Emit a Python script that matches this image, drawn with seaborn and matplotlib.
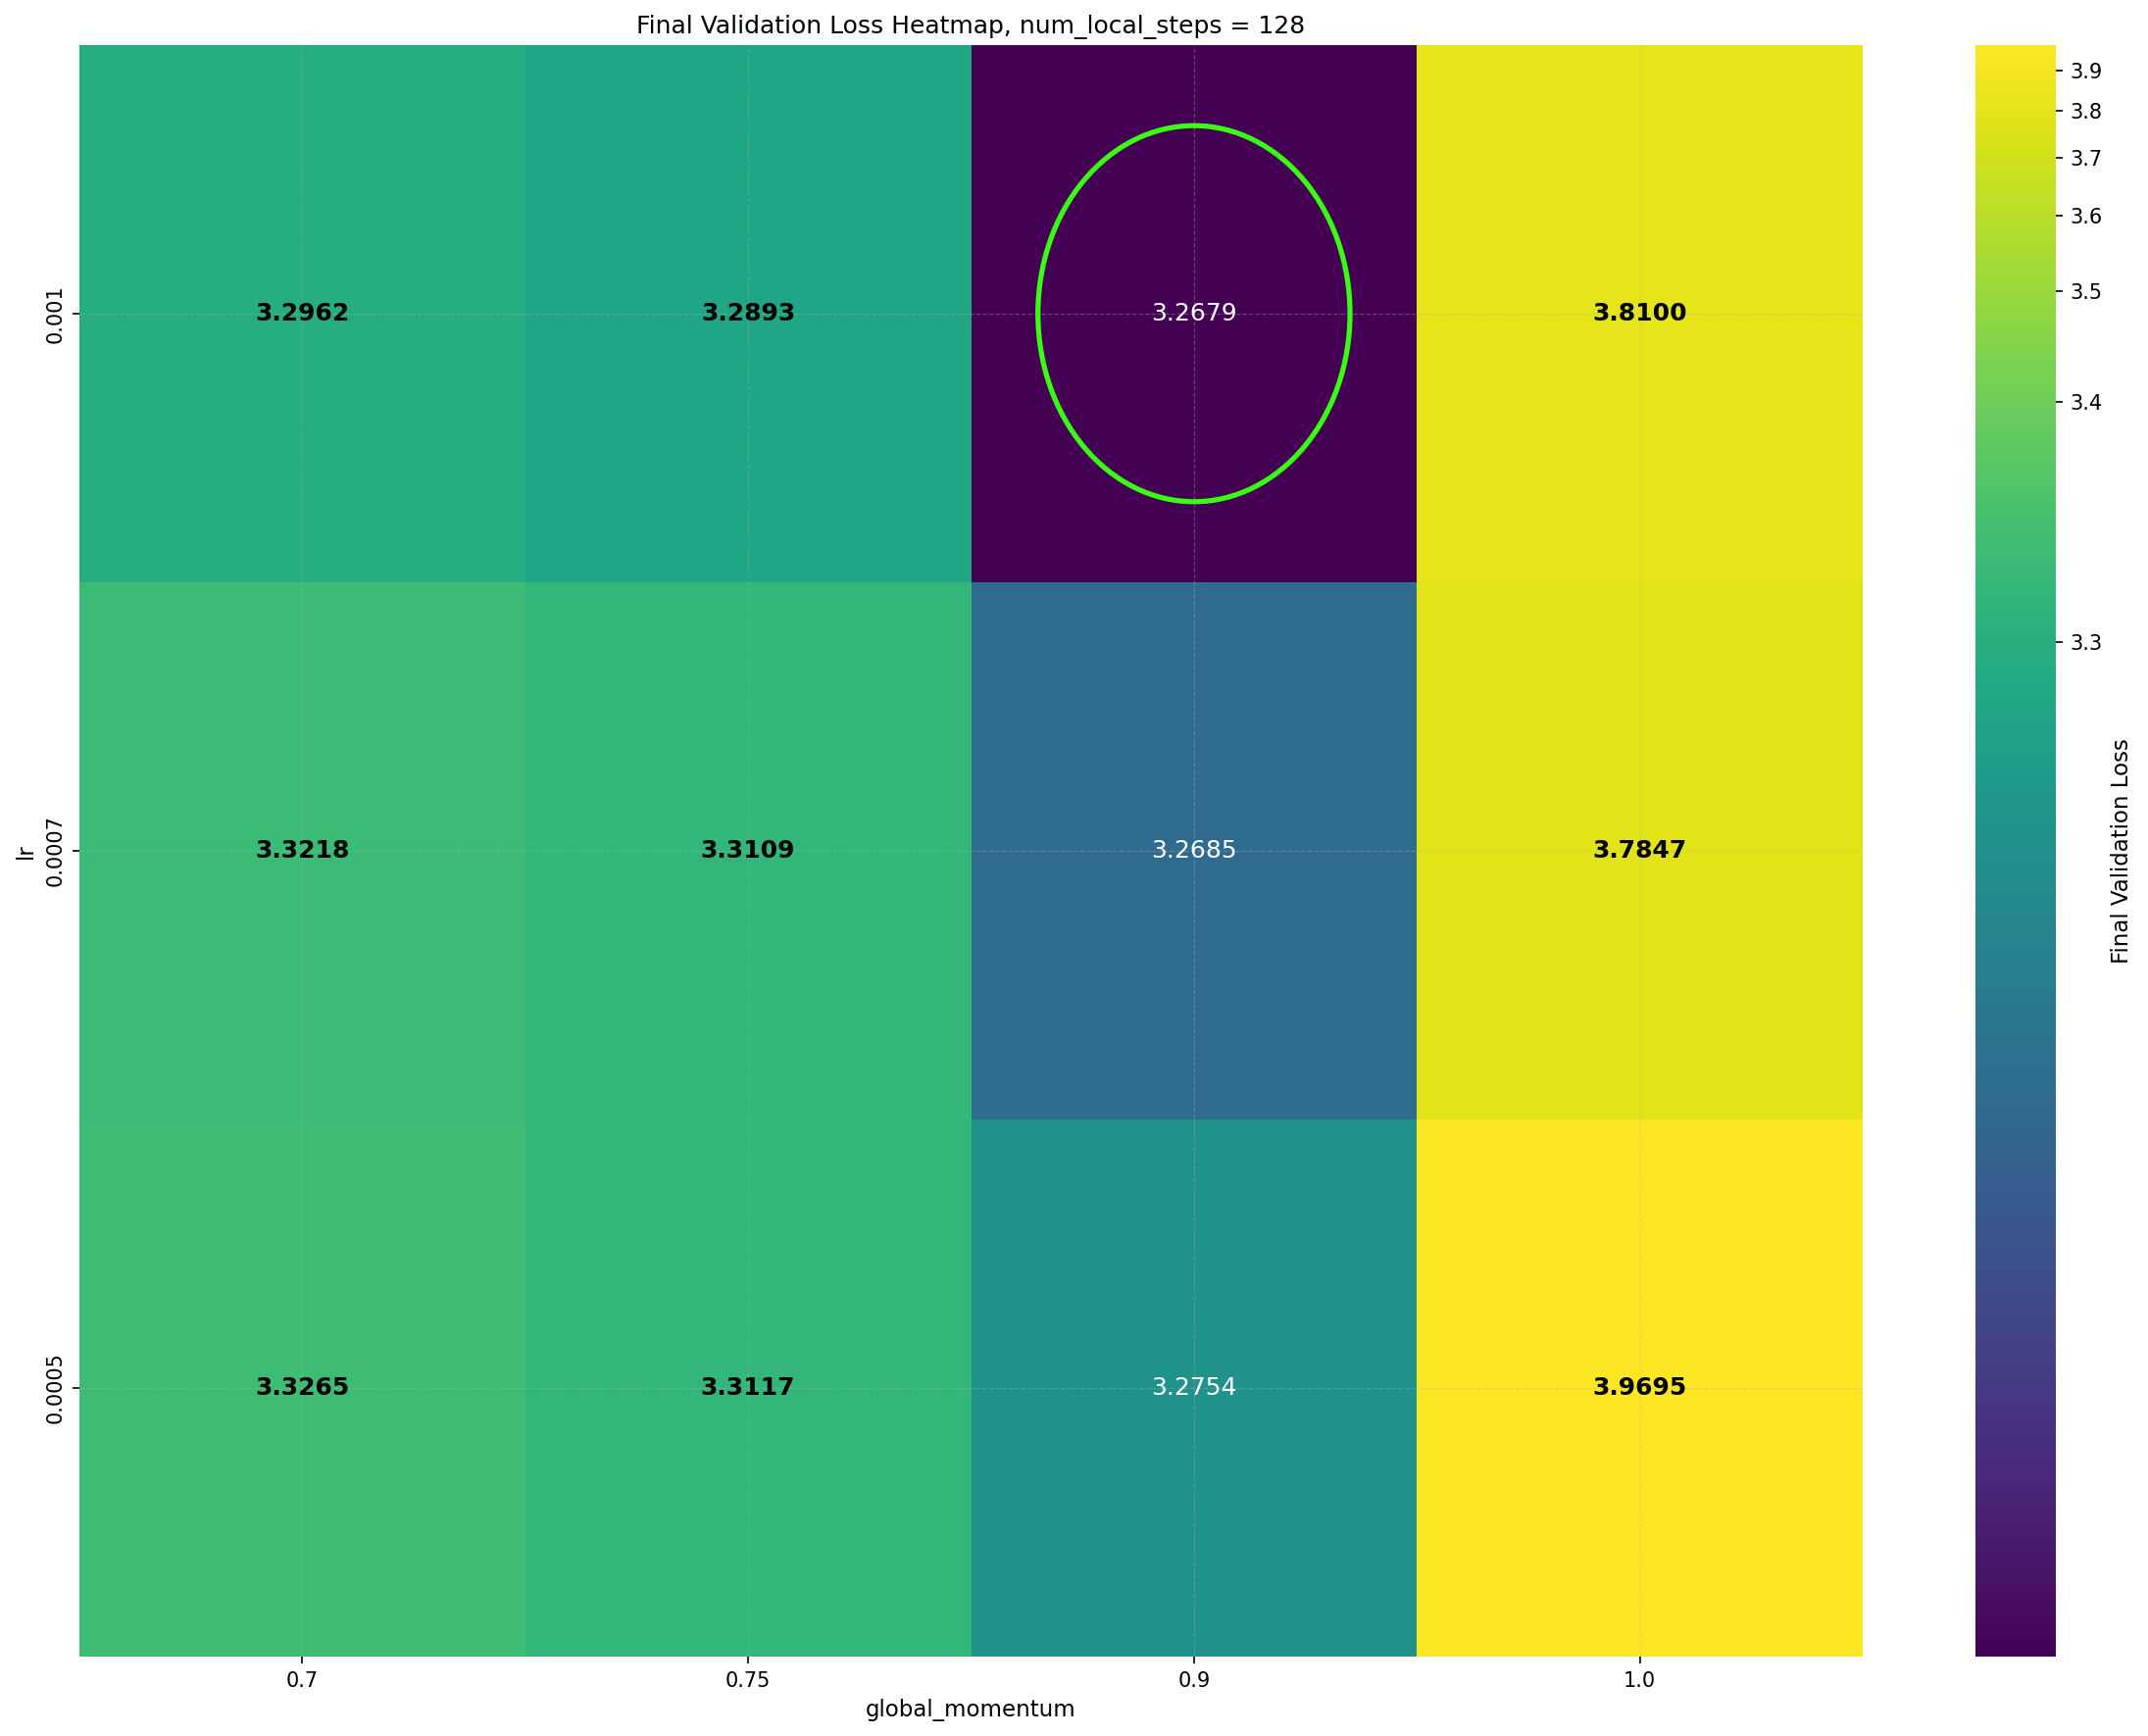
import matplotlib

matplotlib.use("Agg")

import matplotlib.pyplot as plt
import numpy as np
import pandas as pd
import seaborn as sns
from matplotlib.colors import PowerNorm
from matplotlib.patches import Ellipse

FIGURE_DPI = 150

LR_LABELS = ["0.001", "0.0007", "0.0005"]
MOMENTUM_LABELS = ["0.7", "0.75", "0.9", "1.0"]
LOSS_LR_0001 = [3.2962, 3.2893, 3.2679, 3.8100]
LOSS_LR_00007 = [3.3218, 3.3109, 3.2685, 3.7847]
LOSS_LR_00005 = [3.3265, 3.3117, 3.2754, 3.9695]
NUM_LOCAL_STEPS = 128


def build_frame() -> pd.DataFrame:
    return pd.DataFrame(
        [LOSS_LR_0001, LOSS_LR_00007, LOSS_LR_00005],
        index=LR_LABELS,
        columns=MOMENTUM_LABELS,
    )


def main() -> None:
    df = build_frame()
    values = df.to_numpy()
    norm = PowerNorm(gamma=0.15, vmin=values.min(), vmax=values.max())

    fig_w, fig_h = 2191, 1771
    fig = plt.figure(figsize=(fig_w / FIGURE_DPI, fig_h / FIGURE_DPI), dpi=FIGURE_DPI)
    ax = fig.add_axes([81 / fig_w, 1 - 1690 / fig_h, (1900 - 81) / fig_w, (1690 - 46) / fig_h])
    cax = fig.add_axes([2015 / fig_w, 1 - 1690 / fig_h, 82 / fig_w, (1690 - 46) / fig_h])

    sns.heatmap(
        df,
        ax=ax,
        cbar_ax=cax,
        cmap="viridis",
        norm=norm,
        annot=True,
        fmt=".4f",
        annot_kws={"size": 12},
    )
    cax.set_ylabel("Final Validation Loss", fontsize=11)

    # dark cells get plain white text, light cells bold black
    for text, value in zip(ax.texts, values.ravel()):
        if norm(value) < 0.55:
            text.set_color("white")
            text.set_fontweight("normal")
        else:
            text.set_color("black")
            text.set_fontweight("bold")

    ax.grid(True, linestyle="--", linewidth=0.6, alpha=0.35)

    best_row, best_col = np.unravel_index(np.argmin(values), values.shape)
    ax.add_patch(
        Ellipse(
            (best_col + 0.5, best_row + 0.5),
            width=0.7,
            height=0.7,
            fill=False,
            edgecolor="#39ff14",
            linewidth=2.5,
            zorder=5,
        )
    )

    ax.set_title(f"Final Validation Loss Heatmap, num_local_steps = {NUM_LOCAL_STEPS}", fontsize=12)
    ax.set_xlabel("global_momentum", fontsize=11)
    ax.set_ylabel("lr", fontsize=11)
    ax.tick_params(axis="x", labelrotation=0)
    ax.tick_params(axis="y", labelrotation=90)

    fig.savefig("out.png", dpi=FIGURE_DPI)
    plt.close(fig)


if __name__ == "__main__":
    main()
